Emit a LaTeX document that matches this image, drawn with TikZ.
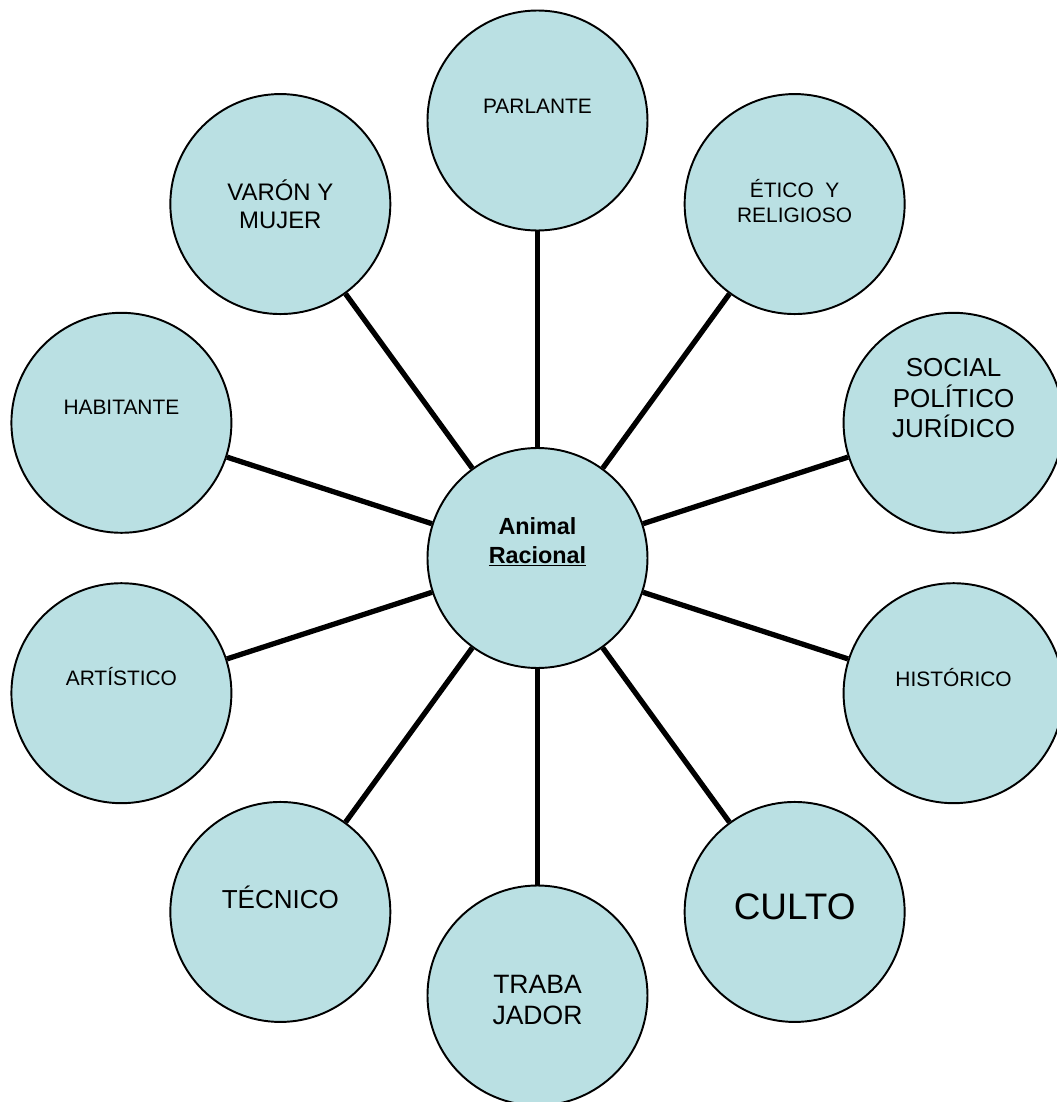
\documentclass[tikz,border=0pt]{standalone}
\usepackage{fontspec}
\setmainfont{Liberation Sans}
\definecolor{bubblefill}{RGB}{186,224,227}

\begin{document}
\begin{tikzpicture}[
    bubble/.style={circle, draw, line width=1.1pt, fill=bubblefill, minimum size=4.4cm, inner sep=0pt},
    link/.style={line width=3pt},
    lbl/.style={anchor=base, align=center, inner sep=0pt},
    smalltext/.style={lbl, font=\fontsize{11.9}{14.2}\selectfont}
]
    \useasboundingbox (-10.75,-10.88) rectangle (10.39,11.16);

    % Center
    \node[bubble] (animal) at (0,0) {};

    % Outer circles
    \node[bubble] (parlante)   at (90:8.75)  {};
    \node[bubble] (etico)      at (54:8.75)  {};
    \node[bubble] (social)     at (18:8.75)  {};
    \node[bubble] (historico)  at (-18:8.75) {};
    \node[bubble] (culto)      at (-54:8.75) {};
    \node[bubble] (trabajador) at (-90:8.75) {};
    \node[bubble] (tecnico)    at (234:8.75) {};
    \node[bubble] (artistico)  at (198:8.75) {};
    \node[bubble] (habitante)  at (162:8.75) {};
    \node[bubble] (varon)      at (126:8.75) {};

    % Connectors
    \draw[link] (animal) -- (parlante);
    \draw[link] (animal) -- (etico);
    \draw[link] (animal) -- (social);
    \draw[link] (animal) -- (historico);
    \draw[link] (animal) -- (culto);
    \draw[link] (animal) -- (trabajador);
    \draw[link] (animal) -- (tecnico);
    \draw[link] (animal) -- (artistico);
    \draw[link] (animal) -- (habitante);
    \draw[link] (animal) -- (varon);

    % Labels (base = last line)
    \node[lbl, font=\bfseries\fontsize{13.3}{16}\selectfont] (animal-t) at ([yshift=-0.10cm]animal.center) {Animal\\\underline{Racional}};
    \node[smalltext] (parlante-t) at ([yshift=0.14cm]parlante.center) {PARLANTE};
    \node[smalltext] (etico-t) at ([yshift=-0.36cm]etico.center) {ÉTICO\ \ Y\\RELIGIOSO};
    \node[lbl, font=\fontsize{14.8}{17.4}\selectfont] (social-t) at ([yshift=-0.30cm]social.center) {SOCIAL\\POLÍTICO\\JURÍDICO};
    \node[smalltext] (historico-t) at ([yshift=0.14cm]historico.center) {HISTÓRICO};
    \node[lbl, font=\fontsize{21}{24}\selectfont] (culto-t) at ([yshift=-0.16cm]culto.center) {CULTO};
    \node[lbl, font=\fontsize{15.1}{17.4}\selectfont] (trabajador-t) at ([yshift=-0.58cm]trabajador.center) {TRABA\\JADOR};
    \node[lbl, font=\fontsize{14.8}{17}\selectfont] (tecnico-t) at ([yshift=0.06cm]tecnico.center) {TÉCNICO};
    \node[smalltext] (artistico-t) at ([yshift=0.16cm]artistico.center) {ARTÍSTICO};
    \node[smalltext] (habitante-t) at ([yshift=0.16cm]habitante.center) {HABITANTE};
    \node[lbl, font=\fontsize{13.6}{15.5}\selectfont] (varon-t) at ([yshift=-0.48cm]varon.center) {VARÓN Y\\MUJER};
\end{tikzpicture}
\end{document}
